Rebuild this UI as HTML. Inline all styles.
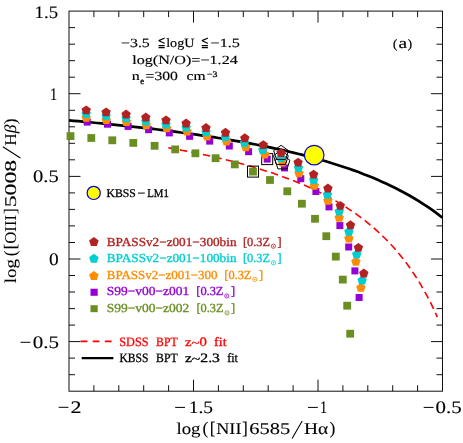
<!DOCTYPE html>
<html><head><meta charset="utf-8"><title>BPT diagram</title>
<style>
html,body{margin:0;padding:0;background:#fff;}
svg{display:block;will-change:transform;}
text{font-family:"Liberation Serif",serif;text-rendering:geometricPrecision;}
.s{font-family:"Liberation Sans",sans-serif;}
</style></head>
<body>
<svg width="463" height="443" viewBox="0 0 463 443">
<rect x="0" y="0" width="463" height="443" fill="#ffffff"/>
<g stroke="#111" stroke-width="1.0" fill="none">
<rect x="69.0" y="11.1" width="373.5" height="380.1"/>
<path d="M93.9 391.2v-6.0M93.9 11.1v6.0M118.8 391.2v-6.0M118.8 11.1v6.0M143.7 391.2v-6.0M143.7 11.1v6.0M168.6 391.2v-6.0M168.6 11.1v6.0M193.5 391.2v-11.5M193.5 11.1v11.5M218.4 391.2v-6.0M218.4 11.1v6.0M243.3 391.2v-6.0M243.3 11.1v6.0M268.2 391.2v-6.0M268.2 11.1v6.0M293.1 391.2v-6.0M293.1 11.1v6.0M318.0 391.2v-11.5M318.0 11.1v11.5M342.9 391.2v-6.0M342.9 11.1v6.0M367.8 391.2v-6.0M367.8 11.1v6.0M392.7 391.2v-6.0M392.7 11.1v6.0M417.6 391.2v-6.0M417.6 11.1v6.0M69.0 374.7h6.0M442.5 374.7h-6.0M69.0 358.1h6.0M442.5 358.1h-6.0M69.0 341.6h11.5M442.5 341.6h-11.5M69.0 325.1h6.0M442.5 325.1h-6.0M69.0 308.6h6.0M442.5 308.6h-6.0M69.0 292.0h6.0M442.5 292.0h-6.0M69.0 275.5h6.0M442.5 275.5h-6.0M69.0 259.0h11.5M442.5 259.0h-11.5M69.0 242.5h6.0M442.5 242.5h-6.0M69.0 225.9h6.0M442.5 225.9h-6.0M69.0 209.4h6.0M442.5 209.4h-6.0M69.0 192.9h6.0M442.5 192.9h-6.0M69.0 176.4h11.5M442.5 176.4h-11.5M69.0 159.8h6.0M442.5 159.8h-6.0M69.0 143.3h6.0M442.5 143.3h-6.0M69.0 126.8h6.0M442.5 126.8h-6.0M69.0 110.3h6.0M442.5 110.3h-6.0M69.0 93.7h11.5M442.5 93.7h-11.5M69.0 77.2h6.0M442.5 77.2h-6.0M69.0 60.7h6.0M442.5 60.7h-6.0M69.0 44.2h6.0M442.5 44.2h-6.0M69.0 27.6h6.0M442.5 27.6h-6.0"/>
</g>
<g fill="none">
<path d="M69.0 120.4 L73.7 120.8 L78.3 121.2 L83.0 121.7 L87.7 122.1 L92.3 122.5 L97.0 123.0 L101.7 123.4 L106.3 123.9 L111.0 124.3 L115.7 124.8 L120.4 125.3 L125.0 125.8 L129.7 126.3 L134.4 126.8 L139.0 127.3 L143.7 127.8 L148.4 128.4 L153.0 128.9 L157.7 129.5 L162.4 130.1 L167.0 130.6 L171.7 131.2 L176.4 131.8 L181.0 132.5 L185.7 133.1 L190.4 133.8 L195.1 134.4 L199.7 135.1 L204.4 135.8 L209.1 136.5 L213.7 137.2 L218.4 138.0 L223.1 138.7 L227.7 139.5 L232.4 140.3 L237.1 141.1 L241.7 141.9 L246.4 142.8 L251.1 143.6 L255.8 144.5 L260.4 145.5 L265.1 146.4 L269.8 147.4 L274.4 148.4 L279.1 149.4 L283.8 150.4 L288.4 151.5 L293.1 152.6 L297.8 153.8 L302.4 154.9 L307.1 156.1 L311.8 157.4 L316.4 158.6 L321.1 160.0 L325.8 161.3 L330.4 162.7 L335.1 164.2 L339.8 165.7 L344.5 167.2 L349.1 168.8 L353.8 170.4 L358.5 172.1 L363.1 173.9 L367.8 175.7 L372.5 177.6 L377.1 179.6 L381.8 181.7 L386.5 183.8 L391.1 186.0 L395.8 188.3 L400.5 190.7 L405.2 193.2 L409.8 195.8 L414.5 198.5 L419.2 201.3 L423.8 204.3 L428.5 207.4 L433.2 210.7 L437.8 214.1 L442.5 217.7" stroke="#000" stroke-width="2.7"/>
<path d="M168.3 147.8 L171.7 148.4 L175.0 149.0 L178.4 149.6 L181.8 150.3 L185.1 150.9 L188.5 151.5 L191.8 152.2 L195.2 152.9 L198.6 153.6 L201.9 154.3 L205.3 155.0 L208.7 155.7 L212.0 156.5 L215.4 157.2 L218.8 158.0 L222.1 158.8 L225.5 159.6 L228.8 160.5 L232.2 161.3 L235.6 162.2 L238.9 163.1 L242.3 164.0 L245.7 164.9 L249.0 165.8 L252.4 166.8 L255.8 167.8 L259.1 168.8 L262.5 169.9 L265.8 170.9 L269.2 172.0 L272.6 173.1 L275.9 174.3 L279.3 175.5 L282.7 176.7 L286.0 177.9 L289.4 179.2 L292.8 180.5 L296.1 181.8 L299.5 183.2 L302.8 184.6 L306.2 186.1 L309.6 187.6 L312.9 189.1 L316.3 190.7 L319.7 192.4 L323.0 194.1 L326.4 195.8 L329.8 197.6 L333.1 199.5 L336.5 201.4 L339.8 203.4 L343.2 205.5 L346.6 207.6 L349.9 209.8 L353.3 212.1 L356.7 214.4 L360.0 216.9 L363.4 219.4 L366.8 222.1 L370.1 224.8 L373.5 227.7 L376.8 230.6 L380.2 233.7 L383.6 237.0 L386.9 240.3 L390.3 243.8 L393.7 247.5 L397.0 251.4 L400.4 255.4 L403.8 259.7 L407.1 264.1 L410.5 268.8 L413.8 273.7 L417.2 278.9 L420.6 284.4 L423.9 290.2 L427.3 296.3 L430.7 302.8 L434.0 309.8 L437.4 317.2" stroke="#ff0000" stroke-width="1.6" stroke-dasharray="7.4 4.35"/>
</g>
<g fill="#6b8e23">
<rect x="66.6" y="132.2" width="7.8" height="7.8"/>
<rect x="87.4" y="134.1" width="7.8" height="7.8"/>
<rect x="108.4" y="136.4" width="7.8" height="7.8"/>
<rect x="129.4" y="139.0" width="7.8" height="7.8"/>
<rect x="150.7" y="141.9" width="7.8" height="7.8"/>
<rect x="171.3" y="145.5" width="7.8" height="7.8"/>
<rect x="191.5" y="149.4" width="7.8" height="7.8"/>
<rect x="211.7" y="154.3" width="7.8" height="7.8"/>
<rect x="230.9" y="160.5" width="7.8" height="7.8"/>
<rect x="249.1" y="167.7" width="7.8" height="7.8"/>
<rect x="266.1" y="176.1" width="7.8" height="7.8"/>
<rect x="283.4" y="187.4" width="7.8" height="7.8"/>
<rect x="298.0" y="199.8" width="7.8" height="7.8"/>
<rect x="311.1" y="214.9" width="7.8" height="7.8"/>
<rect x="322.4" y="232.3" width="7.8" height="7.8"/>
<rect x="331.9" y="252.7" width="7.8" height="7.8"/>
<rect x="338.9" y="275.7" width="7.8" height="7.8"/>
<rect x="343.3" y="301.8" width="7.8" height="7.8"/>
<rect x="346.3" y="329.8" width="7.8" height="7.8"/>
</g>
<rect x="247.5" y="166.1" width="11" height="11" fill="none" stroke="#000" stroke-width="1"/>
<g fill="#9400d3">
<rect x="83.7" y="118.6" width="7" height="7"/>
<rect x="104.0" y="120.7" width="7" height="7"/>
<rect x="124.6" y="122.9" width="7" height="7"/>
<rect x="145.1" y="126.2" width="7" height="7"/>
<rect x="165.8" y="129.4" width="7" height="7"/>
<rect x="186.1" y="132.8" width="7" height="7"/>
<rect x="206.2" y="137.6" width="7" height="7"/>
<rect x="225.8" y="142.5" width="7" height="7"/>
<rect x="245.1" y="148.2" width="7" height="7"/>
<rect x="263.7" y="155.6" width="7" height="7"/>
<rect x="281.0" y="164.4" width="7" height="7"/>
<rect x="297.3" y="175.2" width="7" height="7"/>
<rect x="312.4" y="188.0" width="7" height="7"/>
<rect x="325.5" y="203.4" width="7" height="7"/>
<rect x="336.4" y="222.1" width="7" height="7"/>
<rect x="345.2" y="243.5" width="7" height="7"/>
<rect x="351.4" y="267.4" width="7" height="7"/>
<rect x="355.6" y="294.0" width="7" height="7"/>
</g>
<rect x="261.7" y="153.6" width="11" height="11" fill="none" stroke="#000" stroke-width="1"/>
<g fill="#ff8c00">
<polygon points="86.2,112.9 90.9,116.3 89.1,121.8 83.3,121.8 81.5,116.3"/>
<polygon points="106.2,115.0 110.9,118.4 109.1,123.9 103.3,123.9 101.5,118.4"/>
<polygon points="126.4,117.2 131.1,120.6 129.3,126.1 123.5,126.1 121.7,120.6"/>
<polygon points="146.3,120.3 151.0,123.7 149.2,129.2 143.4,129.2 141.6,123.7"/>
<polygon points="166.7,123.4 171.4,126.8 169.6,132.3 163.8,132.3 162.0,126.8"/>
<polygon points="187.0,126.7 191.7,130.1 189.9,135.6 184.1,135.6 182.3,130.1"/>
<polygon points="207.0,131.5 211.7,134.9 209.9,140.4 204.1,140.4 202.3,134.9"/>
<polygon points="226.5,136.5 231.2,139.9 229.4,145.4 223.6,145.4 221.8,139.9"/>
<polygon points="245.8,142.3 250.5,145.7 248.7,151.2 242.9,151.2 241.1,145.7"/>
<polygon points="264.8,149.7 269.5,153.1 267.7,158.6 261.9,158.6 260.1,153.1"/>
<polygon points="282.5,157.7 287.2,161.1 285.4,166.6 279.6,166.6 277.8,161.1"/>
<polygon points="299.0,168.4 303.7,171.8 301.9,177.3 296.1,177.3 294.3,171.8"/>
<polygon points="314.3,180.8 319.0,184.2 317.2,189.7 311.4,189.7 309.6,184.2"/>
<polygon points="327.9,195.8 332.6,199.2 330.8,204.7 325.0,204.7 323.2,199.2"/>
<polygon points="339.2,212.8 343.9,216.2 342.1,221.7 336.3,221.7 334.5,216.2"/>
<polygon points="348.9,233.6 353.6,237.0 351.8,242.5 346.0,242.5 344.2,237.0"/>
<polygon points="355.9,256.9 360.6,260.3 358.8,265.8 353.0,265.8 351.2,260.3"/>
<polygon points="360.9,282.9 365.6,286.3 363.8,291.8 358.0,291.8 356.2,286.3"/>
</g>
<polygon points="282.5,154.8 289.9,160.2 287.1,168.9 277.9,168.9 275.1,160.2" fill="none" stroke="#000" stroke-width="1"/>
<g fill="#00ced1">
<polygon points="86.2,109.2 90.9,112.6 89.1,118.1 83.3,118.1 81.5,112.6"/>
<polygon points="106.1,111.2 110.8,114.6 109.0,120.1 103.2,120.1 101.4,114.6"/>
<polygon points="126.1,113.4 130.8,116.8 129.0,122.3 123.2,122.3 121.4,116.8"/>
<polygon points="145.8,116.5 150.5,119.9 148.7,125.4 142.9,125.4 141.1,119.9"/>
<polygon points="166.0,119.5 170.7,122.9 168.9,128.4 163.1,128.4 161.3,122.9"/>
<polygon points="186.1,122.7 190.8,126.1 189.0,131.6 183.2,131.6 181.4,126.1"/>
<polygon points="206.0,127.4 210.7,130.8 208.9,136.3 203.1,136.3 201.3,130.8"/>
<polygon points="225.3,132.3 230.0,135.7 228.2,141.2 222.4,141.2 220.6,135.7"/>
<polygon points="244.5,138.1 249.2,141.5 247.4,147.0 241.6,147.0 239.8,141.5"/>
<polygon points="262.8,145.2 267.5,148.6 265.7,154.1 259.9,154.1 258.1,148.6"/>
<polygon points="280.9,153.2 285.6,156.6 283.8,162.1 278.0,162.1 276.2,156.6"/>
<polygon points="298.5,163.1 303.2,166.5 301.4,172.0 295.6,172.0 293.8,166.5"/>
<polygon points="313.7,175.3 318.4,178.7 316.6,184.2 310.8,184.2 309.0,178.7"/>
<polygon points="327.4,189.9 332.1,193.3 330.3,198.8 324.5,198.8 322.7,193.3"/>
<polygon points="339.2,206.7 343.9,210.1 342.1,215.6 336.3,215.6 334.5,210.1"/>
<polygon points="348.9,226.8 353.6,230.2 351.8,235.7 346.0,235.7 344.2,230.2"/>
<polygon points="356.7,249.5 361.4,252.9 359.6,258.4 353.8,258.4 352.0,252.9"/>
<polygon points="362.1,275.5 366.8,278.9 365.0,284.4 359.2,284.4 357.4,278.9"/>
</g>
<polygon points="280.9,150.3 288.3,155.7 285.5,164.4 276.3,164.4 273.5,155.7" fill="none" stroke="#000" stroke-width="1"/>
<g fill="#b22222">
<polygon points="86.2,105.4 90.9,108.8 89.1,114.3 83.3,114.3 81.5,108.8"/>
<polygon points="106.1,107.4 110.8,110.8 109.0,116.3 103.2,116.3 101.4,110.8"/>
<polygon points="126.1,109.5 130.8,112.9 129.0,118.4 123.2,118.4 121.4,112.9"/>
<polygon points="145.8,112.5 150.5,115.9 148.7,121.4 142.9,121.4 141.1,115.9"/>
<polygon points="166.0,115.4 170.7,118.8 168.9,124.3 163.1,124.3 161.3,118.8"/>
<polygon points="186.1,118.5 190.8,121.9 189.0,127.4 183.2,127.4 181.4,121.9"/>
<polygon points="206.0,123.1 210.7,126.5 208.9,132.0 203.1,132.0 201.3,126.5"/>
<polygon points="225.5,127.8 230.2,131.2 228.4,136.7 222.6,136.7 220.8,131.2"/>
<polygon points="244.8,133.3 249.5,136.7 247.7,142.2 241.9,142.2 240.1,136.7"/>
<polygon points="263.3,140.2 268.0,143.6 266.2,149.1 260.4,149.1 258.6,143.6"/>
<polygon points="281.1,148.2 285.8,151.6 284.0,157.1 278.2,157.1 276.4,151.6"/>
<polygon points="298.1,157.7 302.8,161.1 301.0,166.6 295.2,166.6 293.4,161.1"/>
<polygon points="313.6,169.7 318.3,173.1 316.5,178.6 310.7,178.6 308.9,173.1"/>
<polygon points="327.9,183.6 332.6,187.0 330.8,192.5 325.0,192.5 323.2,187.0"/>
<polygon points="340.3,200.9 345.0,204.3 343.2,209.8 337.4,209.8 335.6,204.3"/>
<polygon points="350.5,220.3 355.2,223.7 353.4,229.2 347.6,229.2 345.8,223.7"/>
<polygon points="358.4,242.9 363.1,246.3 361.3,251.8 355.5,251.8 353.7,246.3"/>
<polygon points="363.8,268.5 368.5,271.9 366.7,277.4 360.9,277.4 359.1,271.9"/>
</g>
<polygon points="281.1,145.3 288.5,150.7 285.7,159.4 276.5,159.4 273.7,150.7" fill="none" stroke="#000" stroke-width="1"/>
<circle cx="314.2" cy="155.1" r="9.8" fill="#ffff00" stroke="#0000cd" stroke-width="1.2"/>
<circle cx="93.7" cy="192.9" r="6.6" fill="#ffff00" stroke="#0000cd" stroke-width="1.2"/>
<path d="M80.6 341.4H111.9" stroke="#ff0000" stroke-width="1.6" stroke-dasharray="6.8 5.3" fill="none"/>
<path d="M81.7 358.2H113.4" stroke="#000" stroke-width="2.3" fill="none"/>
<polygon points="93.9,236.9 98.7,240.4 96.8,245.9 91.0,245.9 89.1,240.4" fill="#b22222"/>
<polygon points="93.9,253.7 98.7,257.2 96.8,262.7 91.0,262.7 89.1,257.2" fill="#00ced1"/>
<polygon points="93.9,270.9 98.7,274.4 96.8,279.9 91.0,279.9 89.1,274.4" fill="#ff8c00"/>
<rect x="90.5" y="288.7" width="7.2" height="7.1" fill="#9400d3"/>
<rect x="90.5" y="305.2" width="7.2" height="7.0" fill="#6b8e23"/>
<text x="34.6" y="17.7" font-size="17.6" fill="#000" textLength="23.4" lengthAdjust="spacingAndGlyphs" stroke="#000" stroke-width="0.12">1.5</text>
<text x="50.0" y="99.9" font-size="17.6" fill="#000" textLength="7.2" lengthAdjust="spacingAndGlyphs" stroke="#000" stroke-width="0.12">1</text>
<text x="33.0" y="182.4" font-size="17.6" fill="#000" textLength="25.7" lengthAdjust="spacingAndGlyphs" stroke="#000" stroke-width="0.12">0.5</text>
<text x="49.0" y="265.2" font-size="17.6" fill="#000" textLength="9.7" lengthAdjust="spacingAndGlyphs" stroke="#000" stroke-width="0.12">0</text>
<path d="M20.6 342.3H30.4" stroke="#000" stroke-width="1"/>
<text x="32.7" y="347.7" font-size="17.6" fill="#000" textLength="26.3" lengthAdjust="spacingAndGlyphs" stroke="#000" stroke-width="0.12">0.5</text>
<path d="M58.7 407.3H68.5" stroke="#000" stroke-width="1"/>
<text x="70.5" y="412.7" font-size="17.6" fill="#000" textLength="11.0" lengthAdjust="spacingAndGlyphs" stroke="#000" stroke-width="0.12">2</text>
<path d="M175.2 407.4H185.0" stroke="#000" stroke-width="1"/>
<text x="188.8" y="412.8" font-size="17.6" fill="#000" textLength="24.3" lengthAdjust="spacingAndGlyphs" stroke="#000" stroke-width="0.12">1.5</text>
<path d="M308.0 407.4H317.8" stroke="#000" stroke-width="1"/>
<text x="319.9" y="412.8" font-size="17.6" fill="#000" textLength="7.1" lengthAdjust="spacingAndGlyphs" stroke="#000" stroke-width="0.12">1</text>
<path d="M423.7 407.4H433.5" stroke="#000" stroke-width="1"/>
<text x="435.6" y="412.8" font-size="17.6" fill="#000" textLength="26.2" lengthAdjust="spacingAndGlyphs" stroke="#000" stroke-width="0.12">0.5</text>
<g transform="translate(176.8 434.1)">
<text x="-0.4" y="0.0" font-size="16.5" fill="#000" textLength="24.1" lengthAdjust="spacingAndGlyphs" stroke="#000" stroke-width="0.1">log</text>
<text x="28.5" y="0.0" font-size="17.5" fill="#000" text-anchor="middle" stroke="#000" stroke-width="0.1">(</text>
<text x="35.9" y="0.0" font-size="17.5" fill="#000" text-anchor="middle" stroke="#000" stroke-width="0.1">[</text>
<text x="39.5" y="0.0" font-size="16.5" fill="#000" textLength="25.1" lengthAdjust="spacingAndGlyphs" stroke="#000" stroke-width="0.1">NII</text>
<text x="68.1" y="0.0" font-size="17.5" fill="#000" text-anchor="middle" stroke="#000" stroke-width="0.1">]</text>
<text x="72.5" y="0.0" font-size="16.5" fill="#000" textLength="41.0" lengthAdjust="spacingAndGlyphs" stroke="#000" stroke-width="0.1">6585</text>
<text x="127.2" y="0.0" font-size="16.5" fill="#000" textLength="24.2" lengthAdjust="spacingAndGlyphs" stroke="#000" stroke-width="0.1">H&#945;</text>
<text x="155.5" y="0.0" font-size="17.5" fill="#000" text-anchor="middle" stroke="#000" stroke-width="0.1">)</text>
<path d="M115.3 4.4L125.4 -13.1" stroke="#000" stroke-width="1.05" fill="none"/>
</g>
<g transform="translate(16.0 283.3) rotate(-90)">
<text x="0.0" y="0.0" font-size="16.5" fill="#000" textLength="24.4" lengthAdjust="spacingAndGlyphs" stroke="#000" stroke-width="0.07">log</text>
<text x="30.0" y="0.0" font-size="17.5" fill="#000" text-anchor="middle" stroke="#000" stroke-width="0.07">(</text>
<text x="36.8" y="0.0" font-size="17.5" fill="#000" text-anchor="middle" stroke="#000" stroke-width="0.07">[</text>
<text x="39.6" y="0.0" font-size="16.5" fill="#000" textLength="28.7" lengthAdjust="spacingAndGlyphs" stroke="#000" stroke-width="0.07">OIII</text>
<text x="72.2" y="0.0" font-size="17.5" fill="#000" text-anchor="middle" stroke="#000" stroke-width="0.07">]</text>
<text x="76.1" y="0.0" font-size="16.5" fill="#000" textLength="47.2" lengthAdjust="spacingAndGlyphs" stroke="#000" stroke-width="0.07">5008</text>
<text x="137.5" y="0.0" font-size="16.5" fill="#000" textLength="21.2" lengthAdjust="spacingAndGlyphs" stroke="#000" stroke-width="0.07">H<tspan font-style="italic">&#946;</tspan></text>
<text x="162.1" y="0.0" font-size="17.5" fill="#000" text-anchor="middle" stroke="#000" stroke-width="0.07">)</text>
<path d="M125.3 4.4L136.5 -13.1" stroke="#000" stroke-width="1.05" fill="none"/>
</g>
<text x="121.0" y="46.8" font-size="12.5" fill="#000" textLength="28.8" lengthAdjust="spacingAndGlyphs" stroke="#000" stroke-width="0.15">&#8722;3.5</text>
<text x="157.6" y="46.8" font-size="15" fill="#000" textLength="8.2" lengthAdjust="spacingAndGlyphs">&#8806;</text>
<text x="166.2" y="46.8" font-size="12.5" fill="#000" textLength="28.3" lengthAdjust="spacingAndGlyphs" stroke="#000" stroke-width="0.15">logU</text>
<text x="200.8" y="46.8" font-size="15" fill="#000" textLength="8.2" lengthAdjust="spacingAndGlyphs">&#8806;</text>
<text x="210.5" y="46.8" font-size="12.5" fill="#000" textLength="29.5" lengthAdjust="spacingAndGlyphs" stroke="#000" stroke-width="0.15">&#8722;1.5</text>
<text x="132.2" y="63.8" font-size="12.5" fill="#000" textLength="105.6" lengthAdjust="spacingAndGlyphs" stroke="#000" stroke-width="0.15">log(N/O)=&#8722;1.24</text>
<text x="131.8" y="80.3" font-size="12.5" fill="#000" textLength="8.0" lengthAdjust="spacingAndGlyphs" stroke="#000" stroke-width="0.15">n</text>
<text x="140.3" y="83.7" font-size="9" fill="#000" textLength="3.8" lengthAdjust="spacingAndGlyphs" stroke="#000" stroke-width="0.35">e</text>
<text x="145.6" y="80.3" font-size="12.5" fill="#000" textLength="32.3" lengthAdjust="spacingAndGlyphs" stroke="#000" stroke-width="0.15">=300</text>
<text x="186.5" y="80.3" font-size="12.5" fill="#000" textLength="19.0" lengthAdjust="spacingAndGlyphs" stroke="#000" stroke-width="0.15">cm</text>
<text x="207.0" y="76.8" font-size="8.5" fill="#000" textLength="10.4" lengthAdjust="spacingAndGlyphs" stroke="#000" stroke-width="0.3">&#8722;3</text>
<text x="395.1" y="47.7" font-size="12.8" fill="#000" text-anchor="middle" stroke="#000" stroke-width="0.25">(</text>
<text x="398.5" y="48.4" font-size="15.5" fill="#000" textLength="8.6" lengthAdjust="spacingAndGlyphs" stroke="#000" stroke-width="0.2">a</text>
<text x="410.0" y="47.7" font-size="12.8" fill="#000" text-anchor="middle" stroke="#000" stroke-width="0.25">)</text>
<text x="106.6" y="196.9" font-size="11.8" fill="#000" textLength="29.3" lengthAdjust="spacingAndGlyphs" stroke="#000" stroke-width="0.3">KBSS</text>
<path d="M138 193.1H144.8" stroke="#000" stroke-width="1"/>
<text x="147.2" y="196.9" font-size="11.8" fill="#000" textLength="21.6" lengthAdjust="spacingAndGlyphs" stroke="#000" stroke-width="0.3">LM1</text>
<text x="106.8" y="245.5" font-size="12.3" fill="#b22222" textLength="129.7" lengthAdjust="spacingAndGlyphs" stroke="#b22222" stroke-width="0.33">BPASSv2&#8722;z001&#8722;300bin</text>
<text x="242.9" y="245.5" font-size="12.3" fill="#b22222" textLength="27.1" lengthAdjust="spacingAndGlyphs" stroke="#b22222" stroke-width="0.33">[0.3Z</text>
<circle cx="273.4" cy="246.2" r="2.1" fill="none" stroke="#b22222" stroke-width="0.8"/><circle cx="273.4" cy="246.2" r="0.7" fill="#b22222"/>
<text x="277.5" y="245.5" font-size="12.3" fill="#b22222" stroke="#b22222" stroke-width="0.33">]</text>
<text x="106.8" y="262.1" font-size="12.3" fill="#00ced1" textLength="129.7" lengthAdjust="spacingAndGlyphs" stroke="#00ced1" stroke-width="0.33">BPASSv2&#8722;z001&#8722;100bin</text>
<text x="242.9" y="262.1" font-size="12.3" fill="#00ced1" textLength="27.1" lengthAdjust="spacingAndGlyphs" stroke="#00ced1" stroke-width="0.33">[0.3Z</text>
<circle cx="273.4" cy="262.8" r="2.1" fill="none" stroke="#00ced1" stroke-width="0.8"/><circle cx="273.4" cy="262.8" r="0.7" fill="#00ced1"/>
<text x="277.5" y="262.1" font-size="12.3" fill="#00ced1" stroke="#00ced1" stroke-width="0.33">]</text>
<text x="106.8" y="278.7" font-size="12.3" fill="#ff8c00" textLength="110.7" lengthAdjust="spacingAndGlyphs" stroke="#ff8c00" stroke-width="0.33">BPASSv2&#8722;z001&#8722;300</text>
<text x="224.3" y="278.7" font-size="12.3" fill="#ff8c00" textLength="27.1" lengthAdjust="spacingAndGlyphs" stroke="#ff8c00" stroke-width="0.33">[0.3Z</text>
<circle cx="254.8" cy="279.4" r="2.1" fill="none" stroke="#ff8c00" stroke-width="0.8"/><circle cx="254.8" cy="279.4" r="0.7" fill="#ff8c00"/>
<text x="258.9" y="278.7" font-size="12.3" fill="#ff8c00" stroke="#ff8c00" stroke-width="0.33">]</text>
<text x="106.7" y="295.3" font-size="12.3" fill="#9400d3" textLength="82.6" lengthAdjust="spacingAndGlyphs" stroke="#9400d3" stroke-width="0.33">S99&#8722;v00&#8722;z001</text>
<text x="196.3" y="295.3" font-size="12.3" fill="#9400d3" textLength="27.1" lengthAdjust="spacingAndGlyphs" stroke="#9400d3" stroke-width="0.33">[0.3Z</text>
<circle cx="226.8" cy="296.0" r="2.1" fill="none" stroke="#9400d3" stroke-width="0.8"/><circle cx="226.8" cy="296.0" r="0.7" fill="#9400d3"/>
<text x="230.9" y="295.3" font-size="12.3" fill="#9400d3" stroke="#9400d3" stroke-width="0.33">]</text>
<text x="106.7" y="312.2" font-size="12.3" fill="#6b8e23" textLength="82.6" lengthAdjust="spacingAndGlyphs" stroke="#6b8e23" stroke-width="0.33">S99&#8722;v00&#8722;z002</text>
<text x="196.5" y="312.2" font-size="12.3" fill="#6b8e23" textLength="27.1" lengthAdjust="spacingAndGlyphs" stroke="#6b8e23" stroke-width="0.33">[0.3Z</text>
<circle cx="227.0" cy="312.9" r="2.1" fill="none" stroke="#6b8e23" stroke-width="0.8"/><circle cx="227.0" cy="312.9" r="0.7" fill="#6b8e23"/>
<text x="231.1" y="312.2" font-size="12.3" fill="#6b8e23" stroke="#6b8e23" stroke-width="0.33">]</text>
<text x="119.3" y="346.0" font-size="12.8" fill="#ff0000" textLength="29.2" lengthAdjust="spacingAndGlyphs" stroke="#ff0000" stroke-width="0.3">SDSS</text>
<text x="156.1" y="346.0" font-size="12.8" fill="#ff0000" textLength="21.5" lengthAdjust="spacingAndGlyphs" stroke="#ff0000" stroke-width="0.3">BPT</text>
<text x="184.9" y="346.0" font-size="12.8" fill="#ff0000" textLength="21.9" lengthAdjust="spacingAndGlyphs" stroke="#ff0000" stroke-width="0.3">z<tspan dy="1.0">~</tspan><tspan dy="-1.0">0</tspan></text>
<text x="214.1" y="346.0" font-size="12.8" fill="#ff0000" textLength="12.5" lengthAdjust="spacingAndGlyphs" stroke="#ff0000" stroke-width="0.3">fit</text>
<text x="119.5" y="362.3" font-size="12.8" fill="#000" textLength="29.0" lengthAdjust="spacingAndGlyphs" stroke="#000" stroke-width="0.3">KBSS</text>
<text x="156.1" y="362.3" font-size="12.8" fill="#000" textLength="21.5" lengthAdjust="spacingAndGlyphs" stroke="#000" stroke-width="0.3">BPT</text>
<text x="184.9" y="362.3" font-size="12.8" fill="#000" textLength="35.0" lengthAdjust="spacingAndGlyphs" stroke="#000" stroke-width="0.3">z<tspan dy="1.0">~</tspan><tspan dy="-1.0">2.3</tspan></text>
<text x="227.2" y="362.3" font-size="12.8" fill="#000" textLength="10.8" lengthAdjust="spacingAndGlyphs" stroke="#000" stroke-width="0.3">fit</text>
</svg>
</body></html>
